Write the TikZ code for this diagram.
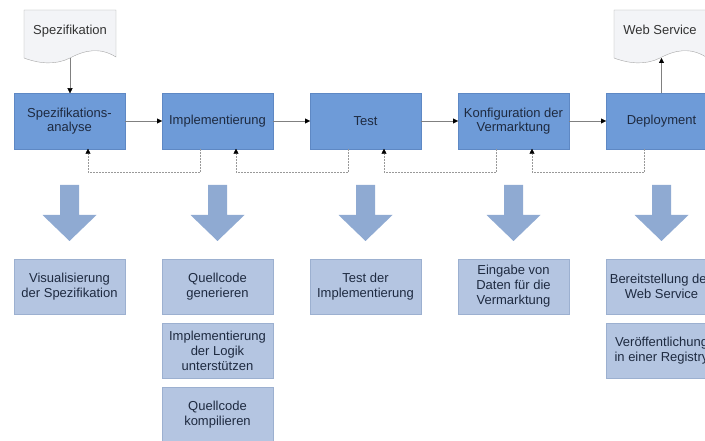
\documentclass[tikz,border=0pt]{standalone}
\usepackage{fontspec}
\setmainfont{Liberation Sans}
\usetikzlibrary{positioning,arrows.meta}
\definecolor{phaseblue}{HTML}{6E9BD8}
\definecolor{phaseedge}{HTML}{5E88C4}
\definecolor{taskblue}{HTML}{B4C5E1}
\definecolor{taskedge}{HTML}{9CB0D0}
\definecolor{arrowblue}{HTML}{8FAAD2}
\definecolor{docfill}{HTML}{F3F4F7}
\definecolor{boxtext}{HTML}{1E2A40}

\tikzset{
  phase/.style={draw=phaseedge, fill=phaseblue, minimum width=111pt, minimum height=55.5pt,
    inner sep=2pt, outer sep=0pt, align=center, text=boxtext, font=\fontsize{13}{14}\selectfont},
  task/.style={phase, draw=taskedge, fill=taskblue, font=\fontsize{13}{15}\selectfont},
  doc/.style={draw=gray!70, fill=docfill},
  flow/.style={draw=gray, -{Triangle[length=5pt,width=5pt,black]}},
  feedback/.style={draw=gray!80, dash pattern=on 2pt off 1pt, -{Triangle[length=5pt,width=5pt,black]}}
}

\begin{document}
\begin{tikzpicture}[x=1pt, y=-1pt]
\useasboundingbox (0,0) rectangle (705,441);

% documents
\draw[doc] (24,10) -- (116,10) -- (116,57) .. controls (100,47) and (85,50) .. (70,58)
  .. controls (56,65) and (40,64) .. (24,58) -- cycle;
\draw[doc, xshift=590pt] (24,10) -- (116,10) -- (116,57) .. controls (100,47) and (85,50) .. (70,58)
  .. controls (56,65) and (40,64) .. (24,58) -- cycle;
\node[font=\fontsize{13}{14}\selectfont, text=black!80] (spez) at (70,31) {Spezifikation};
\node[font=\fontsize{13}{14}\selectfont, text=black!80] (ws) at (660,30) {Web Service};
\coordinate (spezbot) at (70,58);
\coordinate (wsbot) at (661.5,58);

% phases
\node[phase] (ana) at (69.5,121) {Spezifikations-\\analyse};
\node[phase] (impl) at (217.5,121) {Implementierung};
\node[phase] (test) at (365.5,121) {Test};
\node[phase] (konf) at (513.5,121) {Konfiguration der\\Vermarktung};
\node[phase] (depl) at (661.5,121) {Deployment};

\draw[flow] (spezbot) -- (spezbot |- ana.north);
\draw[flow] (depl.north) -- (wsbot);
\draw[flow] (ana) -- (impl);
\draw[flow] (impl) -- (test);
\draw[flow] (test) -- (konf);
\draw[flow] (konf) -- (depl);

\draw[feedback] ([xshift=38pt]impl.south west) -- ++(0,23.5) -| ([xshift=-37pt]ana.south east);
\draw[feedback] ([xshift=38pt]test.south west) -- ++(0,23.5) -| ([xshift=-37pt]impl.south east);
\draw[feedback] ([xshift=38pt]konf.south west) -- ++(0,23.5) -| ([xshift=-37pt]test.south east);
\draw[feedback] ([xshift=38pt]depl.south west) -- ++(0,23.5) -| ([xshift=-37pt]konf.south east);

% big arrows
\foreach \x in {69.5,217.5,365.5,513.5,661.5}{
  \fill[arrowblue] (\x-9.5,185) -- (\x+9.5,185) -- (\x+9.5,215) -- (\x+27,215)
    -- (\x,241) -- (\x-27,215) -- (\x-9.5,215) -- cycle;
}

% tasks
\node[task] (vis) at (69.5,286.5) {Visualisierung\\der Spezifikation};
\node[task] (qgen) at (217.5,286.5) {Quellcode\\generieren};
\node[task, below=8.5pt of qgen] (logik) {Implementierung\\der Logik\\unterstützen};
\node[task, below=8.5pt of logik] (qkomp) {Quellcode\\kompilieren};
\node[task] (tst) at (365.5,286.5) {Test der\\Implementierung};
\node[task] (daten) at (513.5,286.5) {Eingabe von\\Daten für die\\Vermarktung};
\node[task] (bereit) at (661.5,286.5) {Bereitstellung des\\Web Service};
\node[task, below=8.5pt of bereit] (reg) {Veröffentlichung\\in einer Registry};
\end{tikzpicture}
\end{document}
